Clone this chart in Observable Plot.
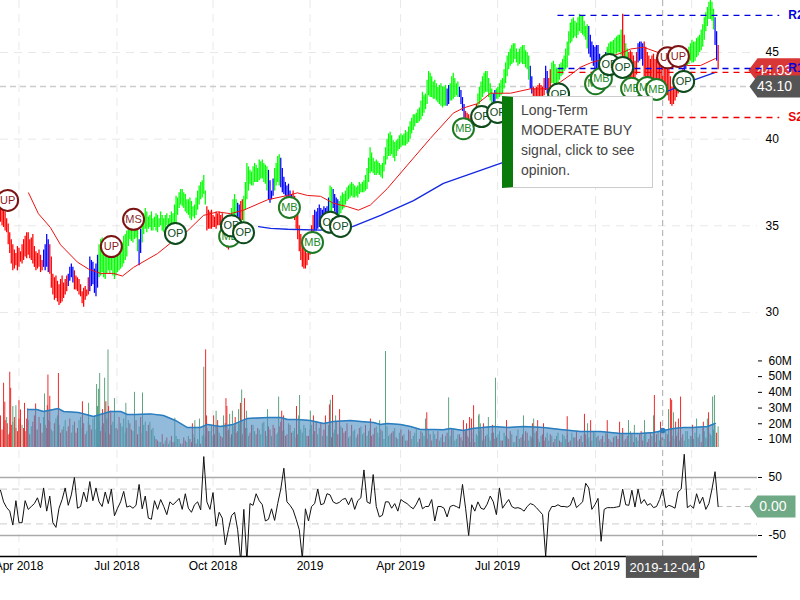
<!DOCTYPE html>
<html>
<head>
<meta charset="utf-8">
<script src="https://cdn.jsdelivr.net/npm/d3@7"></script>
<script src="https://cdn.jsdelivr.net/npm/@observablehq/plot@0.6"></script>
<style>
html,body{margin:0;padding:0;background:#fff;overflow:hidden}
#wrap{position:relative;width:800px;height:600px;overflow:hidden;background:#fff}
#wrap svg{display:block;max-width:none}
#tip{position:absolute;left:502px;top:96px;width:139px;height:90px;box-sizing:content-box;background:#fff;border:1px solid #ccc;border-left:11px solid #0a7a0a;font:14px/20px "Liberation Sans",Arial,sans-serif;color:#444;white-space:nowrap}
#tip div{padding:3px 0 0 8px}
</style>
</head>
<body>
<div id="wrap"></div>
<script>
// x is the bar number; one unit is two trading days, the mid arrays hold the day between.
const highs=[36.0,36.0,35.4,34.6,33.9,33.4,33.7,33.9,34.4,34.6,
34.3,33.8,33.4,33.3,33.6,34.5,33.9,32.2,32.1,31.6,
32.1,31.9,32.2,32.8,32.4,32.0,31.6,31.4,31.3,33.2,
32.9,32.8,33.9,34.3,33.9,33.7,33.9,33.8,34.0,33.9,
34.4,34.7,35.5,35.5,35.0,34.2,35.3,36.0,35.5,35.8,
35.5,35.6,35.8,35.4,35.7,35.6,35.7,36.7,36.9,37.1,
36.8,36.5,36.4,36.2,37.0,37.5,37.9,36.1,35.8,35.6,
35.8,35.8,35.7,35.0,34.8,36.0,36.8,36.3,36.4,36.7,
38.6,38.2,38.4,38.5,38.8,38.8,38.5,38.2,37.0,38.3,
39.0,38.9,37.8,37.3,37.0,37.0,36.4,35.0,34.0,33.6,
33.9,35.0,35.9,36.0,36.0,36.1,36.1,37.3,37.1,36.6,
36.4,36.9,37.0,37.3,37.5,37.3,37.3,37.4,37.6,38.3,
39.5,38.9,38.8,38.6,38.6,39.5,40.3,40.2,39.8,40.0,
40.3,40.3,40.4,41.0,41.4,41.5,41.8,42.7,42.6,43.9,
43.6,43.4,43.0,43.2,43.0,42.9,43.2,43.8,43.2,43.0,
42.4,41.6,41.4,41.3,41.3,42.6,43.3,43.8,43.9,43.2,
42.6,42.9,43.2,43.5,44.4,45.0,45.4,45.5,45.0,45.3,
45.4,45.0,44.2,43.0,43.0,43.2,43.0,44.2,43.5,44.4,
44.3,44.0,44.4,44.8,45.6,46.7,47.0,46.7,47.2,47.1,
46.5,46.5,45.6,45.3,45.4,44.5,44.8,45.3,45.6,45.7,
45.9,46.0,47.2,45.5,45.0,45.0,44.5,45.5,45.6,45.6,
45.0,44.6,44.9,44.7,44.9,44.5,44.4,44.0,43.0,43.1,
43.6,43.5,44.4,45.1,45.5,45.6,45.8,46.0,46.6,47.3,
47.9,47.9,47.0,45.4];
const lows=[35.2,34.9,34.6,33.4,32.4,32.7,32.6,32.8,33.2,33.3,
33.0,32.6,32.5,32.3,32.6,32.6,32.2,31.0,30.8,30.4,
30.6,31.0,31.5,32.0,31.3,31.2,30.9,30.3,30.9,31.2,
31.6,30.9,32.0,32.3,31.9,32.4,32.4,31.9,32.3,32.5,
32.8,33.2,34.2,34.0,34.3,32.7,34.0,34.8,34.8,34.7,
34.9,34.6,35.0,34.6,35.0,34.7,34.8,35.0,36.0,36.1,
35.8,35.6,35.3,35.4,35.9,36.5,36.8,34.7,34.8,34.9,
34.8,35.0,34.6,33.8,33.6,34.6,35.5,35.5,35.2,35.2,
36.5,37.4,37.3,37.5,37.6,37.7,37.4,36.5,36.5,37.0,
37.5,37.2,36.8,36.6,36.1,35.9,34.8,33.5,32.6,32.5,
33.0,33.5,34.7,34.8,35.0,35.2,35.0,35.3,36.0,35.6,
35.5,35.9,36.2,36.5,36.7,36.6,36.6,36.9,36.9,37.1,
38.0,38.0,37.9,37.9,37.7,38.5,39.0,39.1,38.7,39.3,
39.5,39.6,39.7,40.0,40.5,40.9,41.0,41.3,41.7,42.5,
42.4,42.3,42.1,41.9,41.9,41.9,42.2,42.3,42.5,42.4,
41.6,41.0,40.6,40.4,40.7,41.9,42.2,42.6,42.7,42.2,
41.8,42.3,42.4,42.6,43.2,44.0,44.3,44.6,44.2,44.4,
44.3,44.0,42.9,42.4,42.2,42.4,42.3,42.8,42.5,43.2,
43.1,43.2,43.6,43.9,44.1,45.5,45.8,45.8,46.2,46.0,
45.7,44.9,44.5,44.0,44.0,43.9,44.0,44.3,44.6,44.8,
44.9,45.0,44.6,44.6,43.2,43.4,43.5,44.4,44.6,43.6,
43.5,43.0,43.2,43.3,43.1,43.0,42.9,42.2,41.9,42.2,
42.6,42.8,43.7,44.2,44.5,44.4,44.7,45.0,45.3,46.2,
46.9,46.8,45.4,44.0];
const midHighs=[36.2,35.8,35.1,34.2,33.6,33.8,33.5,34.2,34.6,34.2,
34.5,33.5,33.6,33.0,33.9,34.2,33.2,32.0,31.8,31.9,
31.7,32.1,32.6,32.6,32.1,31.9,31.2,31.5,32.0,33.0,
32.5,33.3,34.2,33.8,34.1,33.5,34.0,33.6,34.1,34.0,
34.5,35.3,35.2,35.4,34.9,34.8,35.7,35.8,35.6,35.4,
35.7,35.4,35.6,35.6,35.4,35.8,36.2,36.6,37.1,36.9,
36.5,36.6,36.1,36.6,37.3,37.6,37.0,35.9,35.9,35.5,
35.7,35.6,35.4,34.7,35.4,36.5,36.5,36.2,36.5,37.5,
38.4,38.1,38.6,38.3,38.7,38.6,38.4,37.6,37.7,38.6,
39.1,38.3,37.5,37.4,36.8,36.7,35.8,34.5,33.9,33.4,
34.4,35.6,35.8,36.2,35.9,36.0,36.6,37.2,36.8,36.5,
36.7,36.8,37.2,37.4,37.4,37.2,37.5,37.5,37.9,38.9,
39.2,38.7,38.7,38.5,39.0,40.0,40.4,39.9,39.9,40.2,
40.2,40.5,40.7,41.2,41.4,41.7,42.2,42.5,43.4,43.8,
43.3,43.2,43.1,43.0,43.1,43.1,43.6,43.5,43.3,42.8,
42.0,41.5,41.2,41.4,42.0,43.0,43.6,43.9,43.5,42.9,
42.8,43.0,43.4,44.0,44.8,45.2,45.5,45.2,45.2,45.4,
45.1,44.8,43.6,42.9,43.1,43.1,43.5,43.9,44.0,44.5,
44.1,44.3,44.6,45.2,46.2,46.9,46.8,47.0,47.1,46.8,
46.6,46.0,45.4,45.4,44.9,44.6,45.0,45.5,45.6,45.8,
46.0,46.3,46.0,45.2,45.1,44.8,45.0,45.6,45.5,45.3,
44.8,44.8,44.6,45.0,44.7,44.6,44.2,43.6,43.2,43.4,
43.4,44.0,44.8,45.3,45.7,45.6,45.9,46.3,47.0,47.6,
48.0,47.5,46.2];
const midLows=[35.0,34.7,33.9,32.8,32.5,32.4,32.9,33.0,33.1,33.1,
32.8,32.4,32.6,32.4,32.4,32.3,31.4,30.7,30.6,30.5,
30.8,31.2,31.8,31.7,31.3,31.0,30.5,30.7,31.0,31.5,
31.1,31.4,32.1,32.0,32.2,32.2,32.1,32.1,32.4,32.6,
33.0,33.8,34.1,34.2,33.5,33.4,34.5,34.6,34.9,34.7,
34.7,34.9,34.7,34.8,34.8,34.9,34.9,35.6,36.2,36.0,
35.7,35.4,35.5,35.6,36.2,36.6,36.2,34.8,34.8,34.9,
35.0,34.8,34.2,33.7,34.2,35.0,35.6,35.3,35.3,35.9,
37.0,37.3,37.5,37.5,37.7,37.5,37.0,36.3,36.7,37.3,
37.3,36.9,36.7,36.3,36.0,35.3,34.2,33.0,32.5,32.7,
33.3,34.2,34.7,34.9,35.1,35.1,35.2,35.6,35.8,35.5,
35.7,36.0,36.4,36.6,36.6,36.7,36.8,36.9,37.0,37.5,
38.1,37.9,38.0,37.8,38.1,38.8,39.0,38.9,39.0,39.4,
39.6,39.6,39.8,40.3,40.7,40.9,41.1,41.5,42.0,42.4,
42.3,42.2,42.0,41.8,41.9,42.0,42.2,42.4,42.4,42.0,
41.2,40.8,40.5,40.5,41.3,42.0,42.4,42.7,42.4,42.0,
42.0,42.3,42.5,42.9,43.6,44.2,44.4,44.4,44.3,44.3,
44.1,43.4,42.6,42.3,42.3,42.3,42.5,42.6,42.8,43.2,
43.1,43.4,43.7,44.0,44.8,45.6,45.9,46.0,46.1,45.9,
45.2,44.7,44.2,44.0,43.9,43.9,44.1,44.4,44.7,44.9,
45.0,44.8,44.6,43.8,43.3,43.4,43.7,44.5,44.2,43.4,
43.2,43.1,43.2,43.2,43.0,42.9,42.5,42.0,42.0,42.4,
42.7,43.2,44.0,44.3,44.4,44.5,44.8,45.1,45.7,46.5,
46.9,46.3,44.5];
const trendRuns=[["r",14],["b",2],["r",6],["b",2],["r",5],["b",3],["g",13],["b",1],["g",21],["r",8],["g",2],["b",1],["r",1],["g",8],["b",2],["g",2],["b",4],["r",7],["b",5],["g",1],["b",2],["g",35],["b",1],["g",3],["b",2],["r",4],["g",5],["b",1],["g",11],["b",1],["r",4],["b",1],["r",1],["g",12],["b",6],["g",5],["r",1],["g",1],["r",3],["b",2],["r",13],["b",1],["g",9],["b",1],["r",1]];

const redMaBars=[9.1,12.3,16.2,19.5,25,28.6,32.5,36.7,39.6,43.2,51,55.2,60.7,65.9,70.5,74.7,78.9,86.7,93.2,96.4,99.7,103.9,108.1,112.7,116.2,120.1,125.6,132.1,139.6,147,150.3,154.9,159.1,165.6,172,178,181.8,185,188.3,191.6,197,202,204.5,208.8,214.3,218.5,223,227.3,232.1];
const redMa=[36.9,35.7,34.9,33.9,32.9,32.5,32.25,32.25,32.1,32.6,33.4,34.0,34.7,35.6,35.8,35.7,35.9,36.5,36.75,36.9,36.75,36.7,36.3,36.1,35.9,36.2,37.15,38.5,40.05,41.5,41.8,42.05,42.65,42.65,42.9,42.9,43.3,43.7,44.15,44.4,44.7,45,45.2,45.3,44.95,44.55,44.25,44.25,44.65];
const blueMaBars=[83.8,87.7,93.2,103.9,114.3,123.4,134.1,143.8,152.6,163,211.7,225,232.1];
const blueMa=[34.95,34.85,34.8,34.75,34.95,35.6,36.45,37.45,38,38.65,42.4,43.4,43.85];

const sigBars=[2.3,36,43.2,56.8,74.4,75,78.9,93.8,101.3,107.1,110.4,150.3,156.2,161.4,181.2,193.2,195.1,197.7,202,204.9,210,213,216.6,220.1,221.8];
const sigPrices=[36.46,33.8,35.37,34.56,34.4,35.0,34.6,36.06,34.04,35.2,34.96,40.6,41.3,41.54,42.6,43.2,43.5,44.3,44.14,42.93,42.98,42.87,44.7,44.77,43.33];
const sigLabels=["UP","UP","MS","OP","MB","OP","OP","MB","MB","OP","OP","MB","OP","OP","OP","MB","MB","OP","OP","MB","MB","MB","UP","UP","OP"];

const levelNames=["R2","R1","S1","S2"];
const levelPrices=[47.14,44.08,43.85,41.25];
const levelColors=["#0000dd","#0000dd","#ee0000","#ee0000"];

const priceTicks=[30,35,40,45];
const volTicks=[10,20,30,40,50,60];
const cciTicks=[50,-50];
const cciBands=[30,-30];
const tickBars=[6,37.8,69,100.5,129.9,161.4,193.2,224.4];
const tickLabels=["Apr 2018","Jul 2018","Oct 2018","2019","Apr 2019","Jul 2019","Oct 2019","2020"];

const volBase=[20,18,24,14,21,17,23,19,15,22,18,25,16,20,24,17,21,15,23,19,
16,22,18,14,21,17,24,20,15,19,23,16,21,18,14,22,19,25,16,20,
23,17,20,15,22,18,14,21,19,16,12,9,8,7,11,9,8,12,10,7,
9,12,8,11,10,7,13,17,15,12,18,14,11,20,16,13,19,15,12,21,
17,14,19,13,16,20,15,18,12,17,14,21,16,13,19,15,11,18,14,17,
12,19,15,13,20,16,12,18,14,21,13,17,15,11,19,16,13,18,14,12,
16,13,18,11,15,19,12,14,17,10,16,13,9,15,12,17,10,14,11,16,
9,13,15,11,8,14,12,16,10,13,9,15,11,14,8,12,16,10,13,9,
14,11,15,9,12,10,13,8,16,11,9,14,12,10,15,8,13,11,9,12,
10,14,8,12,13,9,11,15,10,8,13,11,9,14,12,10,8,13,9,11,
12,9,14,10,8,13,11,9,15,12,8,14,10,13,9,11,15,8,12,10,
14,11,9,15,12,10,16,13,17,11,14,12,19,18];
const volMid=[16,22,13,19,24,15,20,17,23,13,21,16,24,14,19,22,16,20,25,14,
18,15,23,19,14,22,17,13,21,16,24,19,15,20,23,13,21,17,24,18,
14,22,16,20,13,24,19,15,21,17,10,8,13,9,7,12,8,10,7,11,
8,10,13,7,9,12,11,15,19,13,16,12,20,15,11,18,14,20,13,17,
12,19,15,17,13,21,12,16,19,13,18,15,12,20,14,17,13,16,19,12,
16,13,21,17,12,15,19,11,16,13,18,14,20,12,15,11,17,13,19,15,
12,17,14,16,10,18,13,15,11,14,12,9,16,10,14,8,15,12,10,13,
15,10,9,13,12,10,16,9,13,11,15,12,8,10,13,15,9,12,11,14,
10,13,9,14,11,15,8,12,10,13,15,9,11,14,10,12,9,14,13,8,
12,9,13,10,8,14,11,9,12,13,10,8,15,11,9,12,14,10,8,12,
10,13,9,12,15,8,11,13,9,14,10,12,8,15,11,10,13,9,14,12,
9,13,15,10,12,14,11,8,15,10,13,16,14];
const volSides="rggrgrrgrggrgrgrrgggrgrgrrgrgrggrgrrgrgggrrgrgrgrggrgrrgrgggrgrrgrgrggrgrgrrgrgggrgrggrrgrgrgrrgrgggrgrgrrgggrgrrgrgrgggrrgrgrgrggrgrrggrgrgrgrgrrgggrgrgrrgrgggrrgrgrgggrgrgrrgrrggrgrggrgrrgrgggrrgrgrrggrgrggrgrrgrgrgrr";
const spikeBars=[0,1,1.4,2.2,3,3.3,4,5,6,6.5,7.8,8.8,11.4,14.3,15.2,15.4,16,18.8,26.6,28.6,31.2,31.5,31.8,32.2,33.1,33.8,34.2,34.9,35.1,35.8,37,40.7,43.5,46.1,56.6,62.3,63.1,64.6,66,66.6,66.9,69.2,70,70.5,72.4,73.2,73.5,74.4,75.3,76.2,77.3,77.9,78.3,79.2,79.9,86.7,90.3,91.3,91.9,96.1,96.8,97.1,100.6,101.6,105.5,106.8,107.1,107.8,108.8,110.1,120.1,123.1,125,
138,138.4,145.5,150.3,151.3,152.3,152.9,153.6,155.2,155.4,155.8,156.8,158.4,159.7,160.7,164.3,169.8,172.7,173.1,174.4,176.3,184,189.6,190.6,191.6,197,201,202,203.9,205.8,209.1,212,212.3,214.3,216.9,217.5,217.9,218.5,219.2,220.1,220.8,224.7,226,228.2,229.5,229.9,231.2,231.8];
const spikeVols=[25,45.8,33.7,20,52.8,42.6,31,31.5,34.7,28.8,33,29.4,32.6,39,31.5,51,37.5,52,34,33,45,31,42,52,29,49,34,67,31,28,36,33,40,39.6,23.5,20,22,23,56,67,25,25,28,22,25,36,31,26,28,24,29,33,41.5,36,28,29,37,28,25,31,25,38,28,25,25,32,35,38,25,29,23,22,66,
23,27,36.5,22,20,24,23,31.5,25,26,20,20,24,19,49,22,25,20,23,22,20,24.5,26,20,22,22,21,17,22,19,22,25,38,21,29,36,35,27,21,23,37,19,23,21,23,27,37,38];
const spikeSides="rrrrrrggrrrrrgrrrrrgggggrgrgrrgggggrgggrrrgrgrrggrgrgrgggrrrgggrrrgrgrrggg"+"rgrrrrrgggrgrgrgrgrrrrgrrrrggggrrgrrgrrrrgrgrggrgrgggrr";

const volMaBars=[8.8,11.7,14,18.8,20.5,25.3,30.2,35.7,39,41.2,43.8,48.7,52.9,56.8,60.7,64.9,67.2,71.4,75.6,80.2,86.7,90.9,93.2,96.4,100.6,104.9,108.1,113.6,116.9,121.1,123.4,125.6,129.9,133.1,136.4,140.6,143.8,146.1,150.3,153.2,160,164.6,169.8,176.3,181.8,188.3,194.8,201.3,207.8,212,215.3,218.5,221.8,225,229.5,232.1];
const volMa=[29.1,29.1,27.8,29.7,27.8,27.2,24.6,27.8,27.8,25.9,25.9,26.3,25.3,22.1,17.6,17.6,19.6,18.3,19.6,23.4,24,24,22.7,22.7,22.1,20.2,21.5,22.1,21.5,20.8,19.6,20.2,19.6,18.3,16.4,16.4,16.2,17,15.7,17,18.3,17.6,18.3,17.6,16.4,15.1,15.1,13.8,13.8,14.5,15.7,17,17.6,17.6,18.3,20.2];

const cci=[28,8,-2,-8,-32,10,-28,-28,10,-5,0,5,15,-2,32,-8,18,-28,-36,-3,12,32,2,20,50,-3,0,25,8,43,10,32,8,0,25,5,30,-16,-3,8,26,-1,1,-3,2,38,-4,18,-20,-22,10,-5,12,0,-14,8,3,8,14,-5,22,-3,-10,3,8,-6,86,8,-5,24,-34,-10,-20,-66,-40,-16,-10,-40,-95,-5,-95,5,2,22,10,3,-25,-22,-4,-24,5,30,66,8,2,-6,-22,-40,-90,-4,-25,0,5,30,3,5,22,20,8,5,7,12,14,3,15,-5,10,15,63,8,5,55,0,-18,-15,8,8,-3,5,-8,
12,8,5,0,-4,4,15,-4,0,0,12,-25,0,0,-3,-18,0,2,0,-3,38,-3,-50,3,-8,8,-3,-5,4,18,8,-14,32,-3,5,12,0,-3,-2,-4,-8,0,5,3,-2,-8,-14,-86,-10,0,0,3,0,0,-1,2,16,-2,3,8,40,32,-5,3,14,-60,-5,-2,-2,-2,-1,0,30,3,2,28,-1,30,5,12,2,5,-2,0,12,30,-2,2,0,-3,25,30,90,-2,2,-3,22,5,16,-5,5,30,60,0];

const crossBar=215, crossPrice=43.04, crossLabel="2019-12-04";
const lastPrice=43.97, lastPriceLabel="44.03", crossPriceLabel="43.10", cciLabel="0.00";
const crossVolMa=15.7;

// scale geometry
const W=800, paneW=757, barPx=3.08, xMax=paneW/barPx;
const xScale={type:"linear",domain:[0,xMax],range:[0,paneW]};
const font={fontFamily:'"Liberation Sans",Arial,sans-serif',fontSize:"12px",background:"transparent",color:"#000"};
const gridStroke="#e8e8e8", crossStroke="#aaa";

const trendColor={r:"#ff0000",b:"#0000ff",g:"#00ff00"};
const trends=trendRuns.flatMap(([k,n])=>Array(n).fill(k));
const bars=highs.map((h,i)=>({i,h,l:lows[i],t:trends[i]||"g"}))
  .concat(midHighs.map((h,i)=>({i:i+0.5,h,l:midLows[i],t:trends[i]||"g"})));
const redLine=redMaBars.map((x,i)=>({x,y:redMa[i]}));
const blueLine=blueMaBars.map((x,i)=>({x,y:blueMa[i]}));
const signals=sigBars.map((x,i)=>({x,y:sigPrices[i],s:sigLabels[i]}));
const levels=levelNames.map((n,i)=>({n,p:levelPrices[i],c:levelColors[i]}));

function tag(w,h,tip){return {draw(ctx){ctx.moveTo(-tip,0);ctx.lineTo(0,-h/2);ctx.lineTo(w,-h/2);ctx.lineTo(w,h/2);ctx.lineTo(0,h/2);ctx.closePath();}};}
const sigStroke={UP:"#7d1414",MS:"#7d1414",MB:"#1d7a22",OP:"#0d4a1c"};
const sigText={UP:"#8b1a1a",MS:"#8b3030",MB:"#1d8a28",OP:"#0d4a1c"};

const main=Plot.plot({
  width:W,height:340,marginLeft:0,marginRight:W-paneW,marginTop:0,marginBottom:0,
  style:font,x:{...xScale,axis:null},y:{domain:[28.38,48],axis:null},
  marks:[
    Plot.ruleX(tickBars,{stroke:gridStroke,strokeDasharray:"8,6"}),
    Plot.ruleY(priceTicks,{stroke:gridStroke,strokeDasharray:"8,6"}),
    Plot.axisY(priceTicks,{anchor:"right",tickSize:0,tickPadding:8,fontSize:12,label:null}),
    Plot.ruleY([crossPrice],{x1:0,x2:xMax-2,stroke:"#ccc",strokeWidth:1.5,strokeDasharray:"6,4"}),
    Plot.ruleX(bars,{x:"i",y1:"l",y2:"h",stroke:d=>trendColor[d.t],strokeWidth:1.25,clip:true}),
    Plot.line(redLine,{x:"x",y:"y",stroke:"#ee1111",strokeWidth:1}),
    Plot.line(blueLine,{x:"x",y:"y",stroke:"#1428e0",strokeWidth:1.3}),
    Plot.dot([lastPrice],{x:()=>xMax,y:d=>d,r:3,symbol:tag(43,24,9),fill:"#d93636",stroke:"none"}),
    Plot.text([lastPriceLabel],{x:()=>xMax+5.5,y:()=>lastPrice,text:d=>d,fill:"#fff",fontSize:14}),
    Plot.ruleY(levels,{y:"p",x1:181,x2:253,stroke:"c",strokeWidth:1.4,strokeDasharray:"6,5"}),
    Plot.text(levels.filter(d=>d.n!=="S1"),{x:()=>255.8,y:"p",text:"n",fill:"c",fontSize:12,fontWeight:"bold",textAnchor:"start"}),
    Plot.dot([crossPrice],{x:()=>xMax,y:d=>d,r:3,symbol:tag(43,22,8),fill:"#555",stroke:"none"}),
    Plot.text([crossPriceLabel],{x:()=>xMax+5.5,y:()=>crossPrice,text:d=>d,fill:"#fff",fontSize:14}),
    Plot.ruleX([crossBar],{stroke:crossStroke,strokeDasharray:"6,4"}),
    ...signals.flatMap(s=>[
      Plot.dot([s],{x:"x",y:"y",r:10.5,fill:"#fff",stroke:sigStroke[s.s],strokeWidth:2}),
      Plot.text([s],{x:"x",y:"y",text:"s",fill:sigText[s.s],fontSize:11})
    ])
  ]
});

const volumeBars=volBase.map((v,i)=>({x:i,v,side:volSides[i]||"g"}))
  .concat(volMid.map((v,i)=>({x:i+0.5,v,side:volSides[volMid.length-1-i]||"r"})))
  .concat(spikeBars.map((x,i)=>({x,v:spikeVols[i],side:spikeSides[i]||"g"})));
const volLine=volMaBars.map((x,i)=>({x,y:volMa[i]}));
const volFloor=4.9;
const vol=Plot.plot({
  width:W,height:110,marginLeft:0,marginRight:W-paneW,marginTop:0,marginBottom:3,
  style:font,x:{...xScale,axis:null},y:{domain:[volFloor,73],axis:null},
  marks:[
    Plot.ruleX(tickBars,{stroke:gridStroke,strokeDasharray:"8,6"}),
    Plot.axisY(volTicks,{anchor:"right",tickSize:4,tickPadding:7,fontSize:12,label:null,tickFormat:d=>d+"M"}),
    Plot.ruleX(volumeBars,{x:"x",y1:volFloor,y2:"v",stroke:d=>d.side==="r"?"#ee2a2a":"#5fa37e",strokeWidth:1}),
    Plot.areaY(volLine,{x:"x",y1:volFloor,y2:"y",fill:"#4f90c4",fillOpacity:0.62}),
    Plot.line(volLine,{x:"x",y:"y",stroke:"#2a7dbf",strokeWidth:1.5}),
    Plot.ruleX([crossBar],{stroke:crossStroke,strokeDasharray:"6,4"}),
    Plot.dot([crossVolMa],{x:()=>crossBar,y:d=>d,r:2.8,fill:"#2a7dbf"})
  ]
});

const cciBottom=-86.2;
const cciPts=cci.map((v,i)=>({i,v}));
const osc=Plot.plot({
  width:W,height:150,marginLeft:0,marginRight:W-paneW,marginTop:0,marginBottom:44,
  style:font,x:{...xScale,axis:null},y:{domain:[cciBottom,96.5],axis:null},
  marks:[
    Plot.ruleX(tickBars,{stroke:gridStroke,y1:cciBottom,y2:96.5,strokeDasharray:"8,6"}),
    Plot.ruleY(cciTicks,{stroke:"#aaa",strokeWidth:1.5}),
    Plot.ruleY(cciBands,{stroke:"#ccc",strokeDasharray:"7,5"}),
    Plot.ruleX([crossBar],{y1:cciBottom,y2:96.5,stroke:crossStroke,strokeDasharray:"6,4"}),
    Plot.ruleY([0],{x1:233,x2:xMax-2,stroke:"#bbb",strokeDasharray:"5,4"}),
    Plot.line(cciPts,{x:"i",y:"v",stroke:"#111",strokeWidth:1,clip:true}),
    Plot.ruleY([cciBottom],{stroke:"#000",strokeWidth:1.5}),
    Plot.axisY(cciTicks,{anchor:"right",tickSize:4,tickPadding:7,fontSize:12,label:null,tickFormat:d=>String(d)}),
    Plot.axisX(tickBars,{anchor:"bottom",tickSize:0,tickPadding:5,fontSize:12,label:null,tickFormat:d=>tickLabels[tickBars.indexOf(d)]}),
    Plot.rect([crossLabel],{x1:()=>203.2,x2:()=>227,y1:()=>cciBottom,y2:()=>-124,fill:"#555"}),
    Plot.text([crossLabel],{x:()=>crossBar,y:()=>-105,text:d=>d,fill:"#fff",fontSize:13}),
    Plot.dot([0],{x:()=>xMax,y:d=>d,r:3,symbol:tag(38,22,8),fill:"#6fa985",stroke:"none"}),
    Plot.text([cciLabel],{x:()=>xMax+5,y:()=>0,text:d=>d,fill:"#fff",fontSize:14})
  ]
});

const wrap=document.getElementById("wrap");
wrap.append(main,vol,osc);
const tip=document.createElement("div");
tip.id="tip";
tip.innerHTML="<div>Long-Term<br>MODERATE BUY<br>signal, click to see<br>opinion.</div>";
wrap.append(tip);
</script>
</body>
</html>
